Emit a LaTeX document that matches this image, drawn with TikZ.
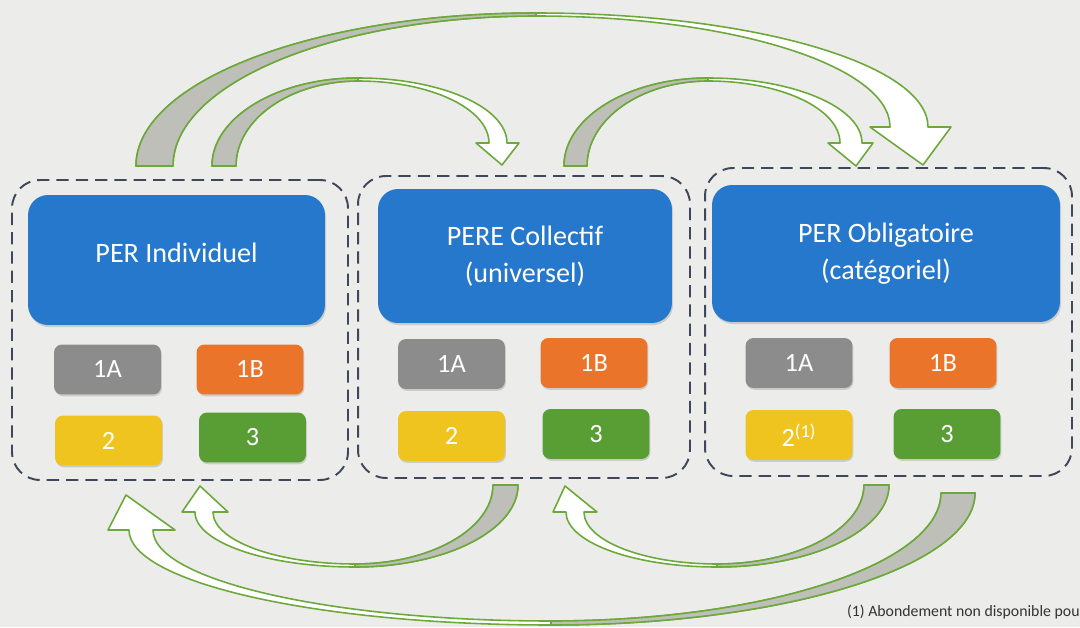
\documentclass[tikz,border=0pt]{standalone}
\usepackage{fontspec}
\setmainfont{Carlito}
\usetikzlibrary{shadows}
\definecolor{bg}{RGB}{236,237,234}
\definecolor{dashcol}{RGB}{62,72,90}
\definecolor{perblue}{RGB}{38,120,204}
\definecolor{boxgray}{RGB}{140,140,140}
\definecolor{boxorange}{RGB}{234,116,42}
\definecolor{boxyellow}{RGB}{240,196,30}
\definecolor{boxgreen}{RGB}{88,158,52}
\definecolor{arrowgreen}{RGB}{108,168,58}
\definecolor{bandgray}{RGB}{190,191,185}
\begin{document}
\begin{tikzpicture}[x=0.02cm,y=0.02cm,
  container/.style={draw=dashcol, line width=1.1pt, dash pattern=on 7pt off 4pt, rounded corners=5.6mm, inner sep=0pt},
  titlebox/.style={fill=perblue, rounded corners=4mm, text=white, align=center, inner sep=0pt,
     font=\fontsize{16}{21}\selectfont, minimum height=26.5mm,
     drop shadow={shadow xshift=0.6pt, shadow yshift=-1.2pt, opacity=0.3}},
  tag/.style={rounded corners=1.6mm, text=white, minimum width=21.4mm, minimum height=10mm, inner sep=0pt,
     font=\fontsize{15}{18}\selectfont,
     drop shadow={shadow xshift=0.5pt, shadow yshift=-1pt, opacity=0.3}},
  tA/.style={tag, fill=boxgray},
  tB/.style={tag, fill=boxorange},
  tTwo/.style={tag, fill=boxyellow},
  tThree/.style={tag, fill=boxgreen},
  bandfront/.style={fill=white, draw=arrowgreen, line width=0.9pt, line join=round},
  bandback/.style={fill=bandgray, draw=arrowgreen, line width=0.9pt, line join=round},
  note/.style={font=\fontsize{9}{11}\selectfont, text=black!80, inner sep=0pt}
]
\useasboundingbox (0,0) rectangle (1080,627);
\fill[bg] (0,0) rectangle (1080,627);

% containers
\node[container, minimum width=67.2mm, minimum height=60mm] (c1) at (180,297) {};
\node[container, minimum width=66.4mm, minimum height=60.4mm] (c2) at (524,300) {};
\node[container, minimum width=73.4mm, minimum height=61.6mm] (c3) at (888.5,305) {};

% title boxes
\node[titlebox, minimum width=59.4mm, minimum height=26mm, text depth=8pt] (b1) at (176.5,367) {PER Individuel};
\node[titlebox, minimum width=58.8mm, minimum height=26.8mm] (b2) at (525,371) {PERE Collectif\\(universel)};
\node[titlebox, minimum width=69.6mm, minimum height=27.4mm] (b3) at (886,373.5) {PER Obligatoire\\(catégoriel)};

% tags
\node[tA] (l1a) at (107.5,257.5) {1A};
\node[tB] (l1b) at (250,257.5) {1B};
\node[tTwo] (l2) at (108.5,186.5) {2};
\node[tThree] (l3) at (252.5,189.5) {3};

\node[tA] (m1a) at (451.5,263) {1A};
\node[tB] (m1b) at (594,264) {1B};
\node[tTwo] (m2) at (451.5,191) {2};
\node[tThree] (m3) at (596,193) {3};

\node[tA] (r1a) at (799,264) {1A};
\node[tB] (r1b) at (943,264) {1B};
\node[tTwo] (r2) at (799,192) {2\textsuperscript{(1)}};
\node[tThree] (r3) at (947,193) {3};

% top arrows
% large: PER Individuel -> PER Obligatoire
\filldraw[bandfront] (136,461) arc[start angle=180,end angle=90,x radius=400,y radius=153]
  arc[start angle=90,end angle=0,x radius=392,y radius=114]
  -- (951,500) -- (923,462) -- (870,500) -- (890,500)
  arc[start angle=0,end angle=90,x radius=354,y radius=111]
  arc[start angle=90,end angle=180,x radius=363,y radius=150] -- cycle;
\filldraw[bandback] (136,461) arc[start angle=180,end angle=90,x radius=400,y radius=153]
  -- (536,611) arc[start angle=90,end angle=180,x radius=363,y radius=150] -- cycle;

% small: PER Individuel -> PERE Collectif
\filldraw[bandfront] (212,461) arc[start angle=180,end angle=90,x radius=146,y radius=88]
  arc[start angle=90,end angle=0,x radius=149,y radius=65]
  -- (519,484) -- (502,462) -- (476,484) -- (489,484)
  arc[start angle=0,end angle=90,x radius=131,y radius=62]
  arc[start angle=90,end angle=180,x radius=122,y radius=85] -- cycle;
\filldraw[bandback] (212,461) arc[start angle=180,end angle=90,x radius=146,y radius=88]
  -- (358,546) arc[start angle=90,end angle=180,x radius=122,y radius=85] -- cycle;

% small: PERE Collectif -> PER Obligatoire
\filldraw[bandfront] (564,461) arc[start angle=180,end angle=90,x radius=144,y radius=88]
  arc[start angle=90,end angle=0,x radius=154,y radius=65]
  -- (873,484) -- (856,461) -- (828,484) -- (840,484)
  arc[start angle=0,end angle=90,x radius=132,y radius=62]
  arc[start angle=90,end angle=180,x radius=121,y radius=85] -- cycle;
\filldraw[bandback] (564,461) arc[start angle=180,end angle=90,x radius=144,y radius=88]
  -- (708,546) arc[start angle=90,end angle=180,x radius=121,y radius=85] -- cycle;

% bottom arrows
% PERE Collectif -> PER Individuel
\filldraw[bandfront] (518,142) arc[start angle=0,end angle=-90,x radius=163,y radius=82]
  arc[start angle=270,end angle=180,x radius=160,y radius=55]
  -- (182,115) -- (200,141) -- (228,115) -- (213,115)
  arc[start angle=180,end angle=270,x radius=142,y radius=52]
  arc[start angle=270,end angle=360,x radius=138,y radius=79] -- cycle;
\filldraw[bandback] (518,142) arc[start angle=0,end angle=-90,x radius=163,y radius=82]
  -- (355,63) arc[start angle=270,end angle=360,x radius=138,y radius=79] -- cycle;

% PER Obligatoire -> PERE Collectif
\filldraw[bandfront] (889,142) arc[start angle=0,end angle=-90,x radius=172,y radius=82]
  arc[start angle=270,end angle=180,x radius=151,y radius=55]
  -- (553,115) -- (565,141) -- (597,115) -- (584,115)
  arc[start angle=180,end angle=270,x radius=133,y radius=52]
  arc[start angle=270,end angle=360,x radius=147,y radius=79] -- cycle;
\filldraw[bandback] (889,142) arc[start angle=0,end angle=-90,x radius=172,y radius=82]
  -- (717,63) arc[start angle=270,end angle=360,x radius=147,y radius=79] -- cycle;

% PER Obligatoire -> PER Individuel (large)
\filldraw[bandfront] (975,134) arc[start angle=0,end angle=-90,x radius=424,y radius=132]
  arc[start angle=270,end angle=180,x radius=422,y radius=95]
  -- (108,97) -- (126,132) -- (175,97) -- (153,97)
  arc[start angle=180,end angle=270,x radius=398,y radius=91]
  arc[start angle=270,end angle=360,x radius=390,y radius=128] -- cycle;
\filldraw[bandback] (975,134) arc[start angle=0,end angle=-90,x radius=424,y radius=132]
  -- (551,6) arc[start angle=270,end angle=360,x radius=390,y radius=128] -- cycle;

% footnote
\node[note, anchor=base east] (fn) at (1080,11) {(1) Abondement non disponible pou};
\end{tikzpicture}
\end{document}
